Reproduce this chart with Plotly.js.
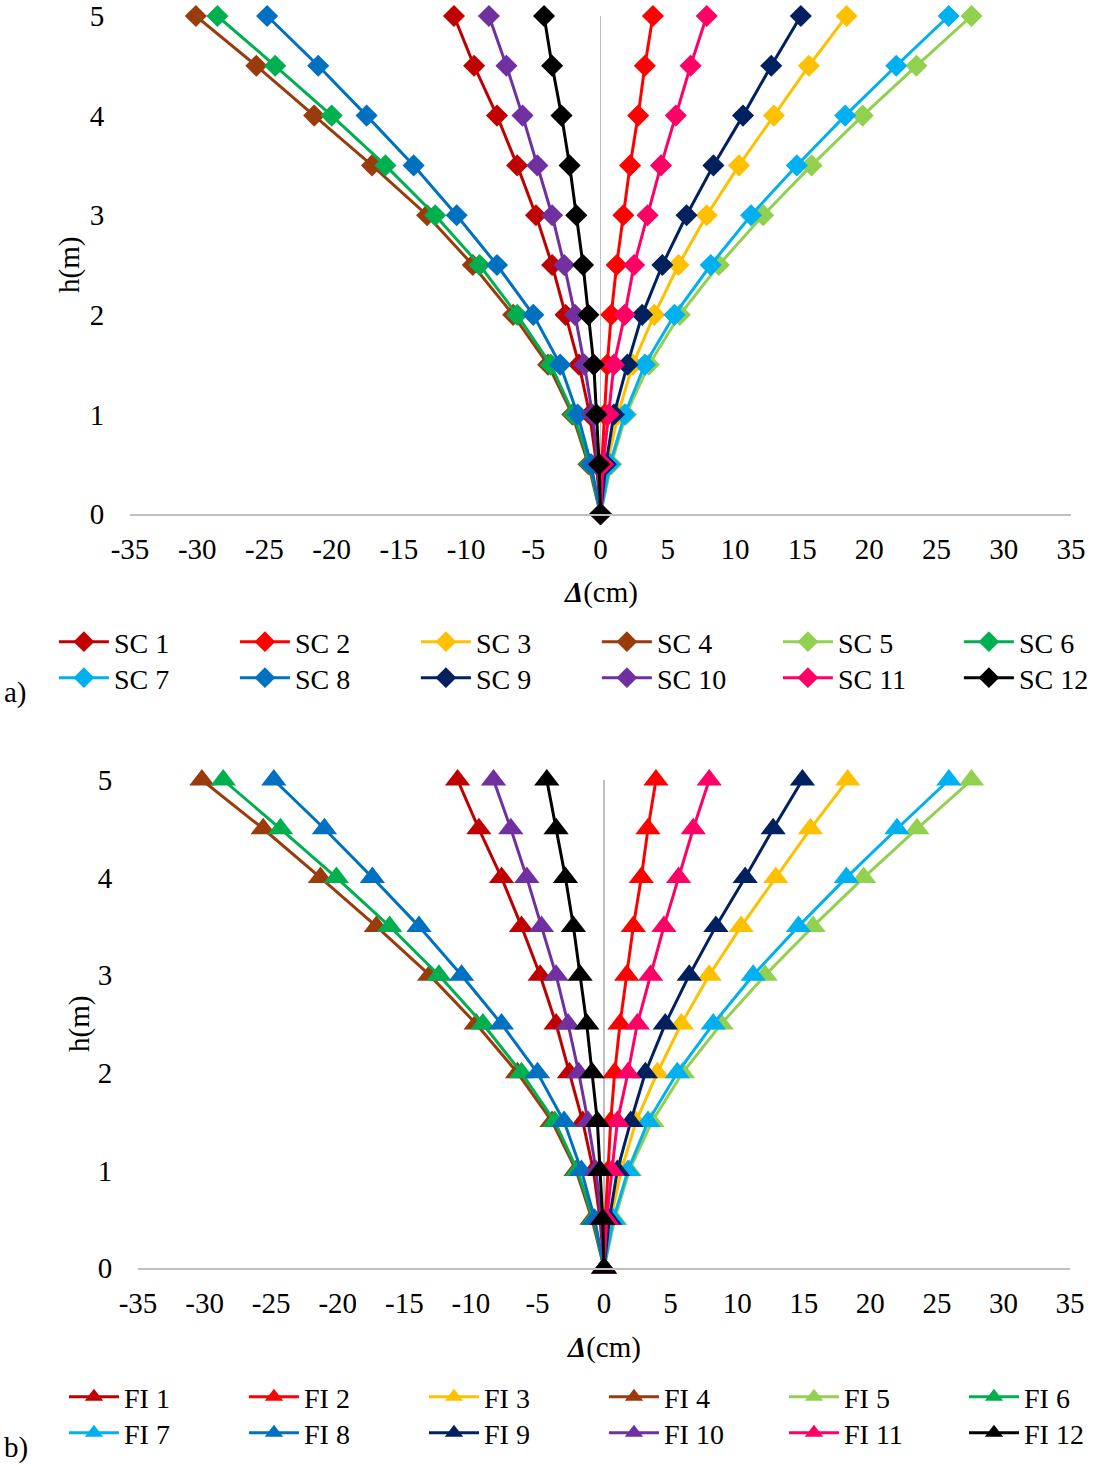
<!DOCTYPE html>
<html>
<head>
<meta charset="utf-8">
<script src="https://cdn.plot.ly/plotly-3.0.1.min.js"></script>
<style>html,body{margin:0;padding:0;background:#fff}</style>
</head>
<body>
<div id="chart" style="width:1094px;height:1466px"></div>
<script>
// storey heights (m)
const heights = [0, 0.5, 1, 1.5, 2, 2.5, 3, 3.5, 4, 4.5, 5];

const caseLabels = ['1', '2', '3', '4', '5', '6', '7', '8', '9', '10', '11', '12'];
const caseColors = ['#C00000', '#FF0000', '#FFC000', '#9A3B0C', '#92D050', '#00B050',
                    '#00B0F0', '#0070C0', '#002060', '#7030A0', '#FF0066', '#000000'];

// x tick labels (plain hyphen minus, like the original)
const xTickVals = [-35, -30, -25, -20, -15, -10, -5, 0, 5, 10, 15, 20, 25, 30, 35];
const xTickText = ['-35', '-30', '-25', '-20', '-15', '-10', '-5', '0', '5', '10', '15', '20', '25', '30', '35'];

// a) SC cases, displacement in cm for each height
const sc1  = [0, -0.3, -0.8, -1.6, -2.6, -3.6, -4.8, -6.2, -7.7, -9.4, -10.9];
const sc2  = [0, 0.1, 0.3, 0.5, 0.8, 1.2, 1.7, 2.2, 2.8, 3.3, 3.9];
const sc3  = [0, 0.5, 1.3, 2.4, 4.0, 5.8, 7.9, 10.3, 12.9, 15.5, 18.3];
const sc4  = [0, -0.9, -2.1, -3.9, -6.5, -9.5, -12.9, -17.0, -21.3, -25.6, -30.1];
const sc5  = [0, 0.8, 1.9, 3.6, 5.9, 8.8, 12.1, 15.7, 19.5, 23.5, 27.6];
const sc6  = [0, -0.8, -2.0, -3.7, -6.2, -9.0, -12.3, -16.0, -20.0, -24.2, -28.5];
const sc7  = [0, 0.7, 1.8, 3.3, 5.5, 8.2, 11.2, 14.6, 18.2, 22.0, 25.9];
const sc8  = [0, -0.7, -1.7, -3.0, -5.0, -7.7, -10.7, -13.9, -17.4, -21.0, -24.8];
const sc9  = [0, 0.4, 1.0, 2.0, 3.1, 4.6, 6.4, 8.4, 10.6, 12.7, 14.9];
const sc10 = [0, -0.2, -0.6, -1.2, -1.9, -2.7, -3.6, -4.7, -5.8, -7.0, -8.3];
const sc11 = [0, 0.2, 0.6, 1.0, 1.8, 2.5, 3.5, 4.5, 5.6, 6.7, 7.9];
const sc12 = [0, -0.1, -0.3, -0.5, -0.9, -1.3, -1.8, -2.3, -2.9, -3.6, -4.2];

// b) FI cases
const fi1  = [0, -0.3, -0.8, -1.6, -2.6, -3.6, -4.8, -6.2, -7.7, -9.4, -11.0];
const fi2  = [0, 0.1, 0.3, 0.5, 0.8, 1.2, 1.7, 2.2, 2.8, 3.3, 3.9];
const fi3  = [0, 0.5, 1.3, 2.4, 4.0, 5.8, 7.9, 10.3, 12.9, 15.5, 18.3];
const fi4  = [0, -0.9, -2.1, -3.9, -6.5, -9.6, -13.1, -17.1, -21.3, -25.6, -30.2];
const fi5  = [0, 0.8, 1.9, 3.6, 5.9, 8.8, 12.1, 15.7, 19.5, 23.5, 27.6];
const fi6  = [0, -0.8, -2.0, -3.7, -6.2, -9.1, -12.4, -16.1, -20.1, -24.3, -28.6];
const fi7  = [0, 0.7, 1.8, 3.3, 5.5, 8.2, 11.2, 14.6, 18.2, 22.0, 25.9];
const fi8  = [0, -0.7, -1.7, -3.0, -5.0, -7.7, -10.7, -13.9, -17.4, -21.0, -24.8];
const fi9  = [0, 0.4, 1.0, 2.0, 3.1, 4.6, 6.4, 8.4, 10.6, 12.7, 14.9];
const fi10 = [0, -0.2, -0.6, -1.2, -1.9, -2.7, -3.6, -4.7, -5.8, -7.0, -8.3];
const fi11 = [0, 0.2, 0.6, 1.0, 1.8, 2.5, 3.5, 4.5, 5.6, 6.7, 7.9];
const fi12 = [0, -0.1, -0.3, -0.5, -0.9, -1.3, -1.8, -2.3, -2.9, -3.6, -4.3];

const scSeries = [sc1, sc2, sc3, sc4, sc5, sc6, sc7, sc8, sc9, sc10, sc11, sc12];
const fiSeries = [fi1, fi2, fi3, fi4, fi5, fi6, fi7, fi8, fi9, fi10, fi11, fi12];

const FONT = '"Liberation Serif", "Times New Roman", serif';
const txt = (size) => ({ family: FONT, size: size, color: '#000' });

// legend rows: first six cases in the upper row, the rest below
function makeTraces(series, prefix, symbol, size, xa, ya, legendRow1, legendRow2, lastWidth) {
  return series.map((vals, i) => {
    const tr = {
      x: vals,
      y: heights,
      xaxis: xa,
      yaxis: ya,
      type: 'scatter',
      mode: 'lines+markers',
      name: prefix + ' ' + caseLabels[i],
      legend: i < 6 ? legendRow1 : legendRow2,
      cliponaxis: false,
      line: { color: caseColors[i], width: 3 },
      marker: { symbol: symbol, size: size, color: caseColors[i], line: { width: 0 } }
    };
    if (i % 6 === 5) tr.legendwidth = lastWidth;   // last column: just the text, keeps the row on the page
    return tr;
  });
}

const data = [
  ...makeTraces(scSeries, 'SC', 'diamond', 17, 'x', 'y', 'legend', 'legend2', 70),
  ...makeTraces(fiSeries, 'FI', 'triangle-up', 22, 'x2', 'y2', 'legend3', 'legend4', 62)
];

function xAxis(domain, anchor) {
  return {
    domain: domain,
    anchor: anchor,
    range: [-35, 35],
    tickmode: 'array',
    tickvals: xTickVals,
    ticktext: xTickText,
    showgrid: false,
    zeroline: true,
    zerolinecolor: '#bfbfbf',
    zerolinewidth: 1.5,
    showline: true,
    linecolor: '#bfbfbf',
    linewidth: 1.5,
    ticks: 'outside',
    ticklen: 9,
    tickcolor: 'rgba(0,0,0,0)',
    tickfont: txt(29),
    fixedrange: true
  };
}

function yAxis(domain, anchor) {
  return {
    domain: domain,
    anchor: anchor,
    range: [0, 5],
    dtick: 1,
    showgrid: false,
    zeroline: false,
    showline: false,
    ticks: 'outside',
    ticklen: 19,
    tickcolor: 'rgba(0,0,0,0)',
    tickfont: txt(29),
    fixedrange: true
  };
}

function legendRow(x, y, entry) {
  return {
    orientation: 'h',
    x: x,
    y: y,
    xanchor: 'left',
    yanchor: 'top',
    itemwidth: 50,
    entrywidth: entry,
    entrywidthmode: 'pixels',
    bgcolor: 'rgba(0,0,0,0)',
    font: txt(28),
    traceorder: 'normal'
  };
}

function label(text, x, y, extra) {
  return Object.assign({
    text: text, xref: 'paper', yref: 'paper', x: x, y: y,
    xanchor: 'center', yanchor: 'middle', showarrow: false, font: txt(29)
  }, extra || {});
}

const layout = {
  width: 1094,
  height: 1466,
  margin: { l: 10, r: 0, t: 16, b: 198 },
  paper_bgcolor: '#fff',
  plot_bgcolor: '#fff',
  font: txt(29),
  showlegend: true,
  xaxis: xAxis([0.1107, 0.9788], 'y'),
  yaxis: yAxis([0.6022, 1], 'x'),
  xaxis2: xAxis([0.1181, 0.9779], 'y2'),
  yaxis2: yAxis([0, 0.3898], 'x2'),
  legend: legendRow(0.0405, 0.5200, 116),
  legend2: legendRow(0.0405, 0.4912, 116),
  legend3: legendRow(0.0498, -0.0831, 115),
  legend4: legendRow(0.0498, -0.1118, 115),
  annotations: [
    label('<b><i>Δ</i></b>(cm)', 0.5452, 0.5399),
    label('<b><i>Δ</i></b>(cm)', 0.5480, -0.0631),
    label('h(m)', 0.0544, 0.8011, { textangle: -90 }),
    label('h(m)', 0.0646, 0.1949, { textangle: -90 }),
    label('a)', -0.0074, 0.4600, { xanchor: 'left' }),
    label('b)', -0.0074, -0.1430, { xanchor: 'left' })
  ]
};

Plotly.newPlot('chart', data, layout, { displayModeBar: false, staticPlot: true });
</script>
</body>
</html>
